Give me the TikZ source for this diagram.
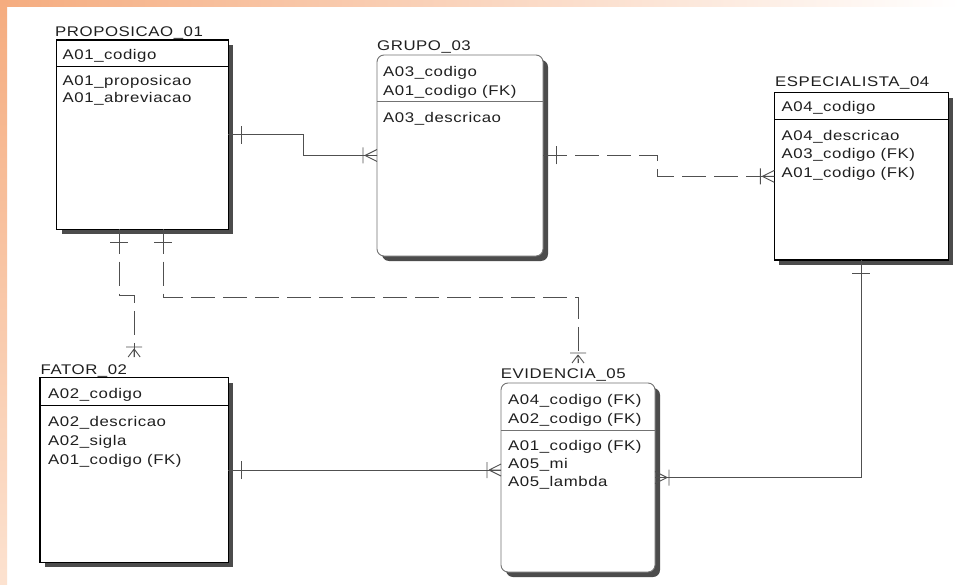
\documentclass[tikz,border=0pt]{standalone}
\usepackage{fontspec}
\newfontfamily\erfont[FakeStretch=1.2,LetterSpace=4]{Liberation Sans}
\usetikzlibrary{decorations.markings,shadows}
\definecolor{orA}{HTML}{F5AC7F}
\definecolor{orB}{HTML}{FCE2D0}
\definecolor{lnc}{HTML}{505050}
\begin{document}
\begin{tikzpicture}[x=1pt,y=-1pt,
  txt/.style={anchor=base west, inner sep=0pt, font=\erfont\fontsize{14}{16}\selectfont, text=black!88},
  ent/.style={draw=black, line width=1.3pt, fill=white, anchor=north west, inner sep=0pt, outer sep=0pt,
    general shadow={shadow xshift=5pt, shadow yshift=-5pt, opacity=1, fill=black!70}},
  rent/.style={ent, draw=black!55, line width=0.9pt, rounded corners=7pt},
  hdr/.style={draw=black, line width=0.9pt},
  rhdr/.style={draw=black!55, line width=0.9pt},
  rel/.style={draw=lnc, line width=0.9pt},
  dsh/.style={rel, dash pattern=on 24pt off 8pt},
  one/.style={postaction={decorate, decoration={markings, mark=at position 13pt with {\draw[solid,lnc,line width=0.9pt] (0pt,-9pt) -- (0pt,9pt);}}}},
  many/.style={postaction={decorate, decoration={markings, mark=at position 1 with {\draw[solid,lnc,line width=0.9pt] ({-#1*1pt},-8pt) -- ({-#1*1pt},8pt) ({-#1*1pt+2pt},0pt) -- (0pt,6pt) ({-#1*1pt+2pt},0pt) -- (0pt,-6pt) ({-#1*1pt+2pt},0pt) -- (0pt,0pt);}}}},
  many/.default=14
  ]
\useasboundingbox (0,0) rectangle (960,585);
\fill[white] (0,0) rectangle (960,585);
\shade[left color=orA, right color=white] (0,0) rectangle (960,7);
\shade[top color=orA, bottom color=orB] (0,0) rectangle (7,585);

% entities
\node[ent, minimum width=171.8pt, minimum height=189.5pt] (prop) at (56.5,40) {};
\node[rent, minimum width=166pt, minimum height=201pt] (grupo) at (377,55) {};
\node[ent, minimum width=174pt, minimum height=167.3pt] (esp) at (774.3,92.7) {};
\node[ent, minimum width=188.3pt, minimum height=184.6pt] (fator) at (40,377.7) {};
\node[rent, minimum width=154pt, minimum height=189pt] (evid) at (501,383) {};

% header separators
\draw[hdr] (prop.west |- 0,66) -- (prop.east |- 0,66);
\draw[rhdr] (grupo.west |- 0,101.7) -- (grupo.east |- 0,101.7);
\draw[hdr] (esp.west |- 0,119) -- (esp.east |- 0,119);
\draw[hdr] (fator.west |- 0,405.7) -- (fator.east |- 0,405.7);
\draw[rhdr] (evid.west |- 0,430.7) -- (evid.east |- 0,430.7);

% texts
\node[txt] (propT) at (55,36.7) {PROPOSICAO\_01};
\node[txt] (propA) at (62.5,59.3) {A01\_codigo};
\node[txt] (propB) at (62.5,85.7) {A01\_proposicao};
\node[txt] (propC) at (62.5,102.7) {A01\_abreviacao};

\node[txt] (grupoT) at (377,50.7) {GRUPO\_03};
\node[txt] (grupoA) at (383,76.7) {A03\_codigo};
\node[txt] (grupoB) at (383,96) {A01\_codigo (FK)};
\node[txt] (grupoC) at (383,123) {A03\_descricao};

\node[txt] (espT) at (775,87) {ESPECIALISTA\_04};
\node[txt] (espA) at (781.5,112) {A04\_codigo};
\node[txt] (espB) at (781.5,140.7) {A04\_descricao};
\node[txt] (espC) at (781.5,159) {A03\_codigo (FK)};
\node[txt] (espD) at (781.5,178) {A01\_codigo (FK)};

\node[txt] (fatorT) at (40.5,374) {FATOR\_02};
\node[txt] (fatorA) at (48,398) {A02\_codigo};
\node[txt] (fatorB) at (48,426) {A02\_descricao};
\node[txt] (fatorC) at (48,445) {A02\_sigla};
\node[txt] (fatorD) at (48,464) {A01\_codigo (FK)};

\node[txt] (evidT) at (500.7,378) {EVIDENCIA\_05};
\node[txt] (evidA) at (508,404) {A04\_codigo (FK)};
\node[txt] (evidB) at (508,423) {A02\_codigo (FK)};
\node[txt] (evidC) at (508,450.7) {A01\_codigo (FK)};
\node[txt] (evidD) at (508,468) {A05\_mi};
\node[txt] (evidE) at (508,486.7) {A05\_lambda};

% relationships
\draw[rel, one, many] (prop.east) -- ++(75,0) |- (grupo.west);
\draw[dsh, one, many] (grupo.east) -- ++(114,0) |- (esp.west);
\draw[dsh, one, many=10] ([xshift=-23pt]prop.south) -- ++(0,65.5) -| ([yshift=20.7pt]fator.north);
\draw[dsh, one, many=10] ([xshift=21pt]prop.south) -- ++(0,68) -| ([yshift=20pt]evid.north);
\draw[rel, one, many] (fator.east) -- ([yshift=7.5pt]evid.west);
\draw[rel, one, many] (esp.south) |- (evid.east);
\end{tikzpicture}
\end{document}
